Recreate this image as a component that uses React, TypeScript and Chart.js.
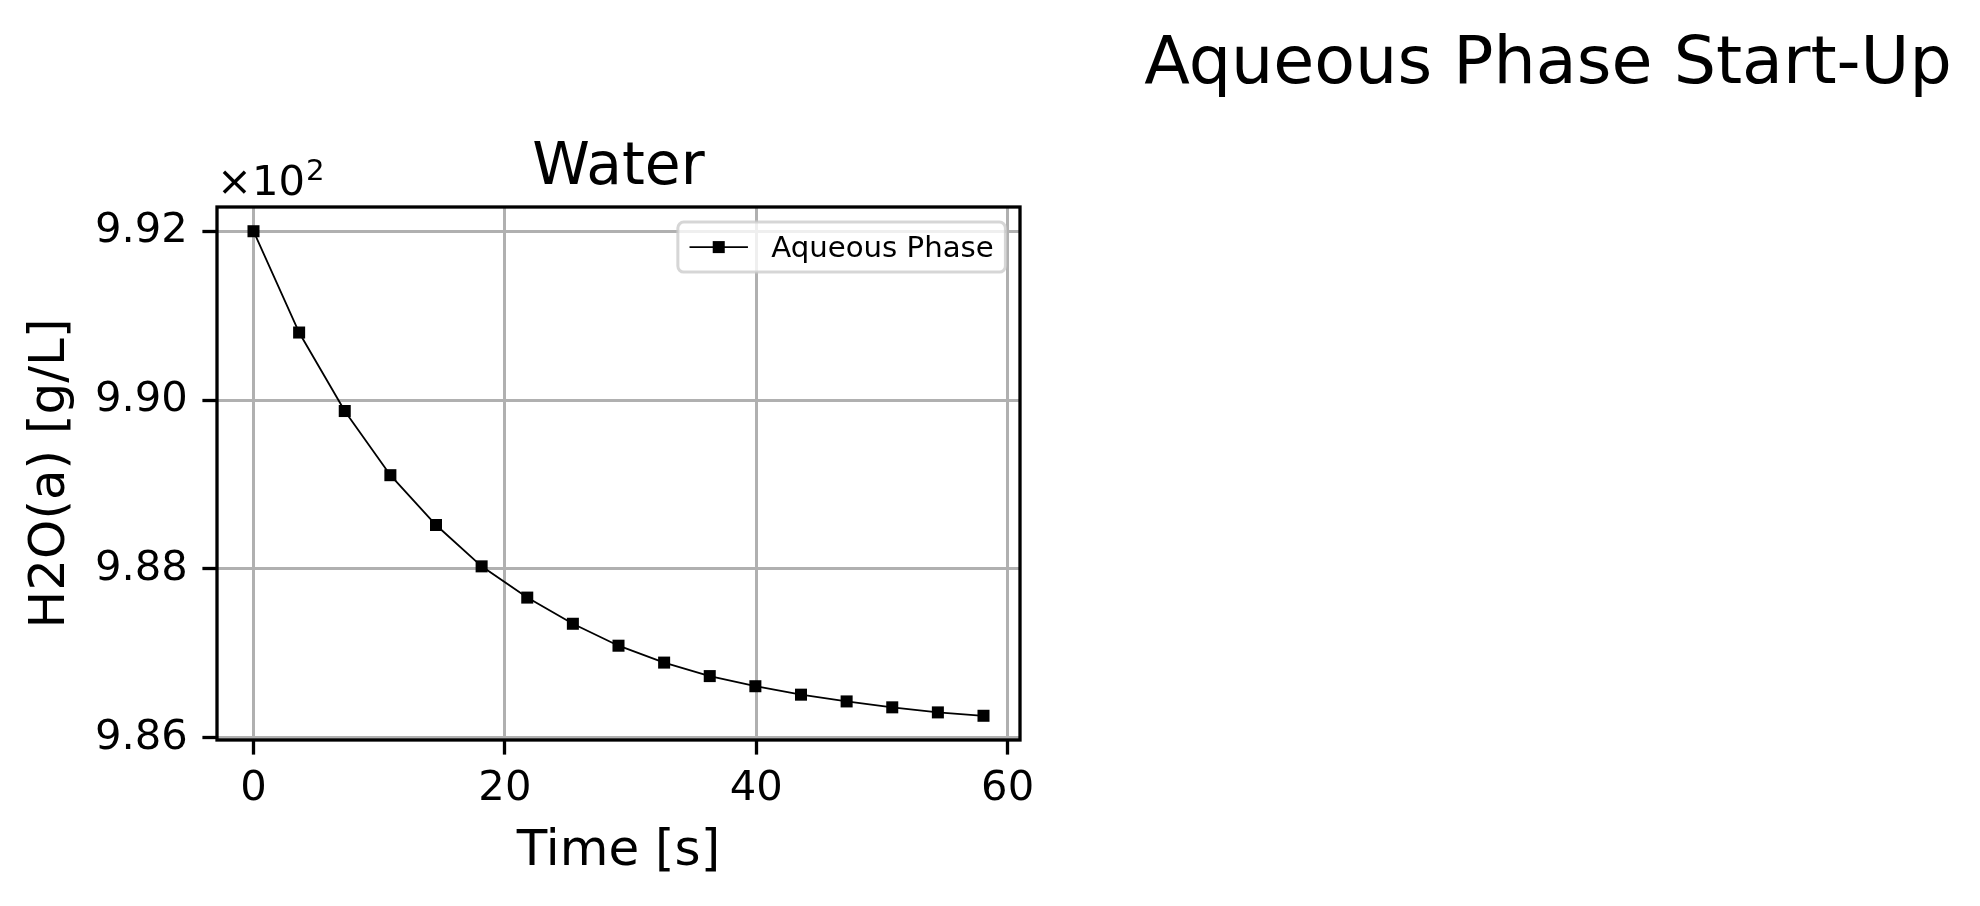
import React, { useEffect, useRef } from "react";
import { Chart, registerables } from "chart.js";

Chart.register(...registerables);

// ---- data ----
const seriesLabel = "Aqueous Phase";
const timeValues = [0, 3.63, 7.26, 10.89, 14.52, 18.15, 21.78, 25.41, 29.04, 32.67, 36.3, 39.93, 43.56, 47.19, 50.82, 54.45, 58.08];
const waterValues = [992.0, 990.8, 989.87, 989.11, 988.52, 988.03, 987.66, 987.35, 987.09, 986.89, 986.73, 986.61, 986.51, 986.43, 986.36, 986.3, 986.26];
const xTickValues = [0, 20, 40, 60];
const yTickValues = [986, 988, 990, 992];
const xAxisRange = [-2.904, 60.984];
const yAxisRange = [985.973, 992.287];
const figureTitle = "Aqueous Phase Start-Up";
const axesTitle = "Water";
const xAxisTitle = "Time [s]";
const yAxisTitle = "H2O(a) [g/L]";
const offsetBase = "×10";
const offsetExp = "2";

const FONT = '"DejaVu Sans", sans-serif';
const TICK_FS = 41.7;
const LABEL_FS = 50;
const TITLE_FS = 58.3;
const SUPTITLE_FS = 66.7;
const LEGEND_FS = 29.2;
const SPINE_W = 3.3;

const decorPlugin = {
  id: "decor",
  afterDatasetsDraw(chart: any) {
    const { ctx, chartArea: a } = chart;
    ctx.save();
    // axes frame (spines)
    ctx.strokeStyle = "#000";
    ctx.lineWidth = SPINE_W;
    ctx.strokeRect(a.left, a.top, a.right - a.left, a.bottom - a.top);

    // legend
    const ds = chart.data.datasets[0];
    const fs = LEGEND_FS;
    ctx.font = `${fs}px ${FONT}`;
    const tw = ctx.measureText(ds.label).width;
    const pad = 0.4 * fs;
    const handleLen = 2 * fs;
    const textPad = 0.8 * fs;
    const boxW = pad * 2 + handleLen + textPad + tw;
    const boxH = 50;
    const boxRight = a.right - 0.5 * fs;
    const boxLeft = boxRight - boxW;
    const boxTop = a.top + 0.5 * fs + 0.5;
    ctx.beginPath();
    (ctx as any).roundRect(boxLeft, boxTop, boxW, boxH, 6);
    ctx.fillStyle = "rgba(255,255,255,0.8)";
    ctx.fill();
    ctx.strokeStyle = "rgba(204,204,204,0.8)";
    ctx.lineWidth = 3;
    ctx.stroke();
    const cy = boxTop + boxH / 2;
    const hx0 = boxLeft + pad;
    const hx1 = hx0 + handleLen;
    ctx.strokeStyle = ds.borderColor;
    ctx.lineWidth = ds.borderWidth;
    ctx.beginPath();
    ctx.moveTo(hx0, cy);
    ctx.lineTo(hx1, cy);
    ctx.stroke();
    const side = ds.pointRadius * Math.SQRT2;
    ctx.fillStyle = ds.pointBackgroundColor;
    ctx.fillRect((hx0 + hx1) / 2 - side / 2, cy - side / 2, side, side);
    ctx.fillStyle = "#000";
    ctx.textAlign = "left";
    ctx.textBaseline = "alphabetic";
    ctx.fillText(ds.label, hx1 + textPad, cy + 9.5);
    ctx.restore();
  },
  afterDraw(chart: any) {
    const { ctx, chartArea: a } = chart;
    ctx.save();
    ctx.fillStyle = "#000";
    ctx.textBaseline = "alphabetic";
    // figure title
    ctx.textAlign = "center";
    ctx.font = `${SUPTITLE_FS}px ${FONT}`;
    ctx.fillText(figureTitle, 1548, 83);
    // axes title
    ctx.font = `${TITLE_FS}px ${FONT}`;
    ctx.fillText(axesTitle, (a.left + a.right) / 2, 184);
    // offset text
    ctx.textAlign = "left";
    ctx.font = `${TICK_FS}px ${FONT}`;
    ctx.fillText(offsetBase, a.left, 195);
    const w = ctx.measureText(offsetBase).width;
    ctx.font = `${TICK_FS * 0.7}px ${FONT}`;
    ctx.fillText(offsetExp, a.left + w + 1, 180);
    ctx.restore();
  },
};

export default function App() {
  const ref = useRef<HTMLCanvasElement>(null);

  useEffect(() => {
    const canvas = ref.current;
    if (!canvas) return;
    const points = timeValues.map((t, i) => ({ x: t, y: waterValues[i] }));
    const chart = new Chart(canvas, {
      type: "line",
      data: {
        datasets: [
          {
            label: seriesLabel,
            data: points,
            borderColor: "#000000",
            borderWidth: 1.8,
            backgroundColor: "#000000",
            pointStyle: "rect",
            pointRadius: 8.5,
            pointBackgroundColor: "#000000",
            pointBorderColor: "#000000",
            pointBorderWidth: 0,
            pointHoverRadius: 8.5,
            tension: 0,
            fill: false,
          } as any,
        ],
      },
      options: {
        responsive: false,
        animation: false,
        devicePixelRatio: 1,
        events: [],
        layout: { padding: { left: 0, top: 207, right: 960, bottom: 0 } },
        plugins: {
          legend: { display: false },
          title: { display: false },
          tooltip: { enabled: false },
        },
        scales: {
          x: {
            type: "linear",
            min: xAxisRange[0],
            max: xAxisRange[1],
            afterBuildTicks: (scale: any) => {
              scale.ticks = xTickValues.map((v) => ({ value: v }));
            },
            afterFit: (scale: any) => {
              scale.height = 166;
            },
            ticks: {
              color: "#000",
              font: { family: FONT, size: TICK_FS },
              padding: 10,
              maxRotation: 0,
              autoSkip: false,
              callback: (v: any) => String(v),
            },
            grid: {
              color: "#b0b0b0",
              lineWidth: 3,
              tickLength: 14.6,
              tickColor: "#000",
              tickWidth: SPINE_W,
            } as any,
            border: { display: false },
            title: {
              display: true,
              text: xAxisTitle,
              color: "#000",
              font: { family: FONT, size: LABEL_FS },
              padding: { top: 0, bottom: 24.3 },
            },
          },
          y: {
            type: "linear",
            min: yAxisRange[0],
            max: yAxisRange[1],
            afterBuildTicks: (scale: any) => {
              scale.ticks = yTickValues.map((v) => ({ value: v }));
            },
            afterFit: (scale: any) => {
              scale.width = 217;
            },
            ticks: {
              color: "#000",
              font: { family: FONT, size: TICK_FS },
              padding: 14.6,
              autoSkip: false,
              callback: (v: any) => (Number(v) / 100).toFixed(2),
            },
            grid: {
              color: "#b0b0b0",
              lineWidth: 3,
              tickLength: 14.6,
              tickColor: "#000",
              tickWidth: SPINE_W,
            } as any,
            border: { display: false },
            title: {
              display: true,
              text: yAxisTitle,
              color: "#000",
              font: { family: FONT, size: LABEL_FS },
              padding: { top: 20.7, bottom: 0 },
            },
          },
        },
      },
      plugins: [decorPlugin],
    } as any);
    return () => chart.destroy();
  }, []);

  return (
    <div style={{ position: "fixed", left: 0, top: 0, width: 1980, height: 906, background: "#ffffff" }}>
      <canvas ref={ref} width={1980} height={906} style={{ display: "block", width: 1980, height: 906 }} />
    </div>
  );
}
